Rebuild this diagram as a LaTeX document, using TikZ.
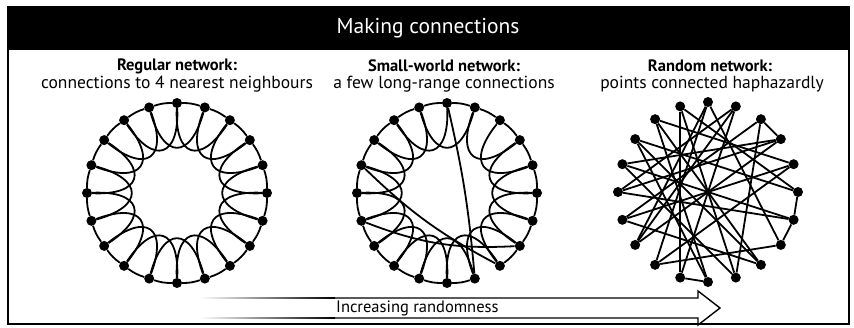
\documentclass[tikz,border=0pt]{standalone}
\usepackage{fontspec}
\setmainfont{PT Sans}
\begin{document}
\begin{tikzpicture}[x=1pt,y=1pt,
  dot/.style={circle,fill=black,inner sep=0pt,minimum size=10pt},
  link/.style={line width=1.8pt,black},
  titletext/.style={text=white,font=\fontsize{21.5}{24}\selectfont,inner sep=0pt},
  headbold/.style={font=\bfseries\fontsize{16.5}{18}\selectfont,inner sep=0pt},
  headtext/.style={font=\fontsize{17.5}{19}\selectfont,inner sep=0pt},
  arrowtext/.style={font=\fontsize{16.5}{18}\selectfont,inner sep=0pt,anchor=west}]
\useasboundingbox (0,0) rectangle (854,-327);
\fill[white] (0,0) rectangle (854,-327);
% frame and title band
\fill[black] (8,-7) rectangle (849,-50);
\draw[line width=2pt] (8,-7) rectangle (849,-324);
\node[titletext] (title) at (428,-28) {Making connections};
% headings
\node[headbold] (h1) at (177,-66) {Regular network:};
\node[headtext] (s1) at (177,-84) {connections to 4 nearest neighbours};
\node[headbold] (h2) at (444,-66) {Small-world network:};
\node[headtext] (s2) at (444,-84) {a few long-range connections};
\node[headbold] (h3) at (710,-66) {Random network:};
\node[headtext] (s3) at (712,-84) {points connected haphazardly};
% regular network
\begin{scope}[shift={(177,-193)}]
  \foreach \k in {0,...,19} \node[dot] (r\k) at ({90-18*\k}:90) {};
  \foreach \k in {0,...,19}{
    \pgfmathtruncatemacro\n{mod(\k+1,20)}
    \pgfmathtruncatemacro\m{mod(\k+2,20)}
    \draw[link] (r\k) to[bend left=9] (r\n);
    \draw[link] (r\k) .. controls ({90-18*\k+4}:36) and ({90-18*\k-40}:36) .. (r\m);
  }
\end{scope}
% small-world network
\begin{scope}[shift={(447,-193)}]
  \foreach \k in {0,...,19} \node[dot] (w\k) at ({90-18*\k}:90) {};
  \foreach \k in {0,...,19}{
    \pgfmathtruncatemacro\n{mod(\k+1,20)}
    \pgfmathtruncatemacro\m{mod(\k+2,20)}
    \ifnum\k=8 \else \draw[link] (w\k) to[bend left=9] (w\n);\fi
    \ifnum\k=0 \else \draw[link] (w\k) .. controls ({90-18*\k+4}:36) and ({90-18*\k-40}:36) .. (w\m);\fi
  }
  \draw[link] (w0) to[bend left=4] (w9);
  \draw[link] (w16) to[bend right=8] (w8);
  \draw[link] (w14) to[bend right=12] (w7);
\end{scope}
% random network
\begin{scope}[shift={(708,-192)}]
  \foreach \k in {0,...,19} \node[dot] (n\k) at ({90-18*\k}:90) {};
  \foreach \a/\b in {0/12,0/7,1/15,1/11,19/9,19/5,18/8,18/4,2/3,2/14,17/5,17/10,
                     3/16,3/13,16/6,4/14,15/6,5/6,6/7,14/8,13/1,12/4,11/10,11/19,
                     10/18,9/16,8/17,7/12,13/0,15/3,9/2}
    \draw[link] (n\a) -- (n\b);
\end{scope}
% arrow
\shade[left color=white,right color=black] (200,-297.3) rectangle (335,-298.7);
\shade[left color=white,right color=black] (200,-317.3) rectangle (335,-318.7);
\draw[line width=1.4pt,line join=miter]
  (335,-298) -- (698,-298) -- (698,-291) -- (720,-308) -- (698,-325) -- (698,-318) -- (335,-318);
\node[arrowtext] (arr) at (336,-308.5) {Increasing randomness};
\end{tikzpicture}
\end{document}
